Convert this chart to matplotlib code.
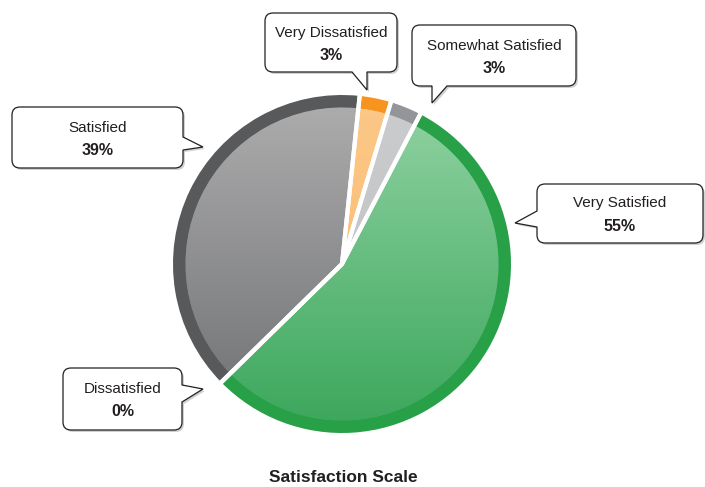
import numpy as np
import matplotlib
matplotlib.use("Agg")
import matplotlib.pyplot as plt
from matplotlib.path import Path
from matplotlib.patches import PathPatch
from matplotlib.colors import LinearSegmentedColormap

plt.rcParams["font.family"] = ["Liberation Sans", "DejaVu Sans"]

# dados (ordem no sentido horario, a partir do topo)
categorias = ["Very Dissatisfied", "Somewhat Satisfied", "Very Satisfied", "Dissatisfied", "Satisfied"]
valores = [3, 3, 55, 0, 39]
rotulos = ["3%", "3%", "55%", "0%", "39%"]

cor_anel = ["#f7941d", "#939598", "#27a048", "#939598", "#58595b"]
cor_topo = ["#fcc888", "#cbcccd", "#92d3a4", "#cbcccd", "#aeaeaf"]
cor_base = ["#f9b76a", "#bdbec0", "#3aa65a", "#bdbec0", "#6d6e70"]

W, H = 705, 487
fig = plt.figure(figsize=(W / 100, H / 100), dpi=100)
ax = fig.add_axes([0, 0, 1, 1])

cx, cy, R, anel = 342, H - 264, 169, 13

# anel externo
ax.pie(valores, colors=cor_anel, startangle=84, counterclock=False,
       center=(cx, cy), radius=R, wedgeprops=dict(width=anel, linewidth=0))

# miolo com degrade vertical
fatias, _ = ax.pie(valores, colors=cor_base, startangle=84, counterclock=False,
                   center=(cx, cy), radius=R - anel + 0.5, wedgeprops=dict(linewidth=0))
grad = np.linspace(0, 1, 256).reshape(-1, 1)
for w, c1, c2 in zip(fatias, cor_topo, cor_base):
    cmap = LinearSegmentedColormap.from_list("g", [c1, c2])
    im = ax.imshow(grad, cmap=cmap, aspect="auto", origin="upper",
                   extent=(cx - R, cx + R, cy - R, cy + R), zorder=2)
    im.set_clip_path(w)

# linhas brancas entre as fatias
ax.pie(valores, startangle=84, counterclock=False, center=(cx, cy), radius=R + 3,
       wedgeprops=dict(fill=False, edgecolor="white", linewidth=3, zorder=3))


def balao(x0, y0, x1, y1, lado, b1, b2, ponta, r=8):
    # coordenadas em pixels (origem no topo), convertidas para o eixo
    pts = []
    cod = []

    def mv(x, y, c):
        pts.append((x, H - y))
        cod.append(c)

    mv(x0 + r, y0, Path.MOVETO)
    mv(x1 - r, y0, Path.LINETO)
    mv(x1, y0, Path.CURVE3); mv(x1, y0 + r, Path.CURVE3)
    if lado == "right":
        mv(x1, b1, Path.LINETO); mv(*ponta, Path.LINETO); mv(x1, b2, Path.LINETO)
    mv(x1, y1 - r, Path.LINETO)
    mv(x1, y1, Path.CURVE3); mv(x1 - r, y1, Path.CURVE3)
    if lado == "bottom":
        mv(b2, y1, Path.LINETO); mv(*ponta, Path.LINETO); mv(b1, y1, Path.LINETO)
    mv(x0 + r, y1, Path.LINETO)
    mv(x0, y1, Path.CURVE3); mv(x0, y1 - r, Path.CURVE3)
    if lado == "left":
        mv(x0, b2, Path.LINETO); mv(*ponta, Path.LINETO); mv(x0, b1, Path.LINETO)
    mv(x0, y0 + r, Path.LINETO)
    mv(x0, y0, Path.CURVE3); mv(x0 + r, y0, Path.CURVE3)
    mv(x0 + r, y0, Path.CLOSEPOLY)
    caminho = Path(pts, cod)
    sombra = Path(np.array(pts) + [2, -2], cod)
    ax.add_patch(PathPatch(sombra, fc="#000000", ec="none", alpha=0.18, zorder=4))
    ax.add_patch(PathPatch(caminho, fc="white", ec="#231f20", lw=0.9, zorder=5))


# caixas: (x0, y0, x1, y1, lado da ponta, base1, base2, ponta)
caixas = {
    "Very Dissatisfied": (265, 13, 397, 72, "bottom", 352, 367, (367, 90)),
    "Somewhat Satisfied": (412, 25, 576, 86, "bottom", 432, 447, (432, 103)),
    "Very Satisfied": (537, 184, 703, 243, "left", 211, 227, (515, 223)),
    "Dissatisfied": (63, 368, 182, 430, "right", 385, 402, (203, 389)),
    "Satisfied": (12, 107, 183, 168, "right", 137, 150, (203, 147)),
}

for nome, rot in zip(categorias, rotulos):
    x0, y0, x1, y1, lado, b1, b2, ponta = caixas[nome]
    balao(x0, y0, x1, y1, lado, b1, b2, ponta)
    xm = (x0 + x1) / 2
    ym = (y0 + y1) / 2
    ax.text(xm, H - (ym - 10), nome, ha="center", va="center", fontsize=11,
            color="#231f20", zorder=6)
    ax.text(xm, H - (ym + 13), rot, ha="center", va="center", fontsize=11.5,
            fontweight="bold", color="#231f20", zorder=6)

ax.text(343, H - 478, "Satisfaction Scale", ha="center", va="center",
        fontsize=12.5, fontweight="bold", color="#231f20")

ax.set_xlim(0, W)
ax.set_ylim(0, H)
ax.set_aspect("auto")
ax.axis("off")
fig.savefig("out.png", dpi=100)
